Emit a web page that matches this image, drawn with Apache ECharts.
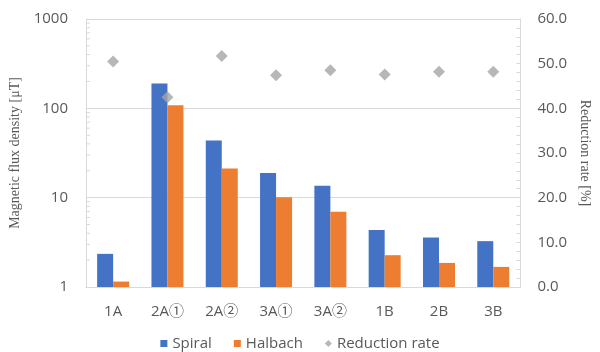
<!DOCTYPE html>
<html>
<head>
<meta charset="utf-8">
<script src="https://cdn.jsdelivr.net/npm/echarts@6/dist/echarts.min.js"></script>
<style>
  html, body { margin: 0; padding: 0; background: #fff; }
  #chart { width: 600px; height: 352px; }
</style>
</head>
<body>
<div id="chart"></div>
<script>
// Measurement positions
const categories = ['1A', '2A①', '2A②', '3A①', '3A②', '1B', '2B', '3B'];
// Magnetic flux density [μT]
const spiral  = [2.35, 190, 43.7, 18.9, 13.6, 4.34, 3.58, 3.26];
const halbach = [1.15, 108, 21.2, 10.1, 6.96, 2.27, 1.86, 1.68];
// Reduction rate [%]
const reductionRate = [50.5, 42.5, 51.7, 47.4, 48.5, 47.6, 48.2, 48.2];
// Right axis range and step
const rateMin = 0, rateMax = 60, rateStep = 10;
// Minor tick values for the logarithmic axis (2..9 within each decade)
const logMinorTicks = [2, 3, 4, 5, 6, 7, 8, 9,
                       20, 30, 40, 50, 60, 70, 80, 90,
                       200, 300, 400, 500, 600, 700, 800, 900];

const TEXT = '#595959';
const LINE = '#d9d9d9';
const UI_FONT = '"Open Sans", "Noto Sans CJK JP", sans-serif';
const SERIF = '"Liberation Serif", "DejaVu Serif", serif';

const chart = echarts.init(document.getElementById('chart'), null, { renderer: 'canvas' });
chart.setOption({
  animation: false,
  backgroundColor: '#ffffff',
  grid: { left: 86, right: 70, top: 19, bottom: 65 },
  legend: {
    top: 331,
    left: 'center',
    itemWidth: 7,
    itemHeight: 7,
    itemGap: 22,
    textStyle: { color: TEXT, fontSize: 15, fontFamily: UI_FONT },
    data: [
      { name: 'Spiral', icon: 'rect' },
      { name: 'Halbach', icon: 'rect' },
      { name: 'Reduction rate', icon: 'diamond' }
    ]
  },
  xAxis: {
    type: 'category',
    data: categories,
    axisLine: { show: true, lineStyle: { color: LINE, width: 1 } },
    axisTick: { show: false },
    axisLabel: { color: TEXT, fontSize: 15, fontFamily: UI_FONT, margin: 17 }
  },
  yAxis: [
    {
      type: 'log',
      logBase: 10,
      min: 1,
      max: 1000,
      name: 'Magnetic flux density [μT]',
      nameLocation: 'middle',
      nameGap: 62,
      nameTextStyle: { color: TEXT, fontSize: 14, fontFamily: SERIF },
      axisLine: { show: true, lineStyle: { color: LINE } },
      axisTick: { show: false },
      axisLabel: {
        color: TEXT, fontSize: 15, fontFamily: UI_FONT, margin: 18,
        formatter: v => String(Math.round(v))
      },
      splitLine: { show: true, lineStyle: { color: LINE } }
    },
    {
      type: 'value',
      min: rateMin,
      max: rateMax,
      interval: rateStep,
      position: 'right',
      name: 'Reduction rate [%]',
      nameLocation: 'middle',
      nameGap: 56,
      nameRotate: -90,
      nameTextStyle: { color: TEXT, fontSize: 14, fontFamily: SERIF },
      axisLine: { show: true, lineStyle: { color: LINE } },
      axisTick: { show: true, inside: true, length: 4, lineStyle: { color: LINE } },
      minorTick: { show: true, splitNumber: 5, length: 4, lineStyle: { color: LINE } },
      axisLabel: {
        color: TEXT, fontSize: 15, fontFamily: UI_FONT, margin: 17,
        formatter: v => v.toFixed(1)
      },
      splitLine: { show: false }
    }
  ],
  series: [
    {
      name: 'Spiral',
      type: 'bar',
      data: spiral,
      barWidth: 16,
      barGap: '0%',
      itemStyle: { color: '#4472C4' }
    },
    {
      name: 'Halbach',
      type: 'bar',
      data: halbach,
      barWidth: 16,
      barGap: '0%',
      itemStyle: { color: '#ED7D31' }
    },
    {
      name: 'Reduction rate',
      type: 'scatter',
      yAxisIndex: 1,
      data: reductionRate,
      symbol: 'diamond',
      symbolSize: 12,
      itemStyle: { color: '#A5A5A5' },
      z: 5
    },
    {
      // short inward minor ticks along the logarithmic axis
      name: 'logMinorTicks',
      type: 'custom',
      yAxisIndex: 0,
      silent: true,
      tooltip: { show: false },
      data: logMinorTicks.map(v => [0, v]),
      renderItem: (params, api) => {
        const y = api.coord([0, api.value(1)])[1];
        const x0 = params.coordSys.x;
        return {
          type: 'line',
          shape: { x1: x0, y1: y, x2: x0 + 4, y2: y },
          style: { stroke: LINE, lineWidth: 1 }
        };
      },
      z: 1
    }
  ]
});
</script>
</body>
</html>
